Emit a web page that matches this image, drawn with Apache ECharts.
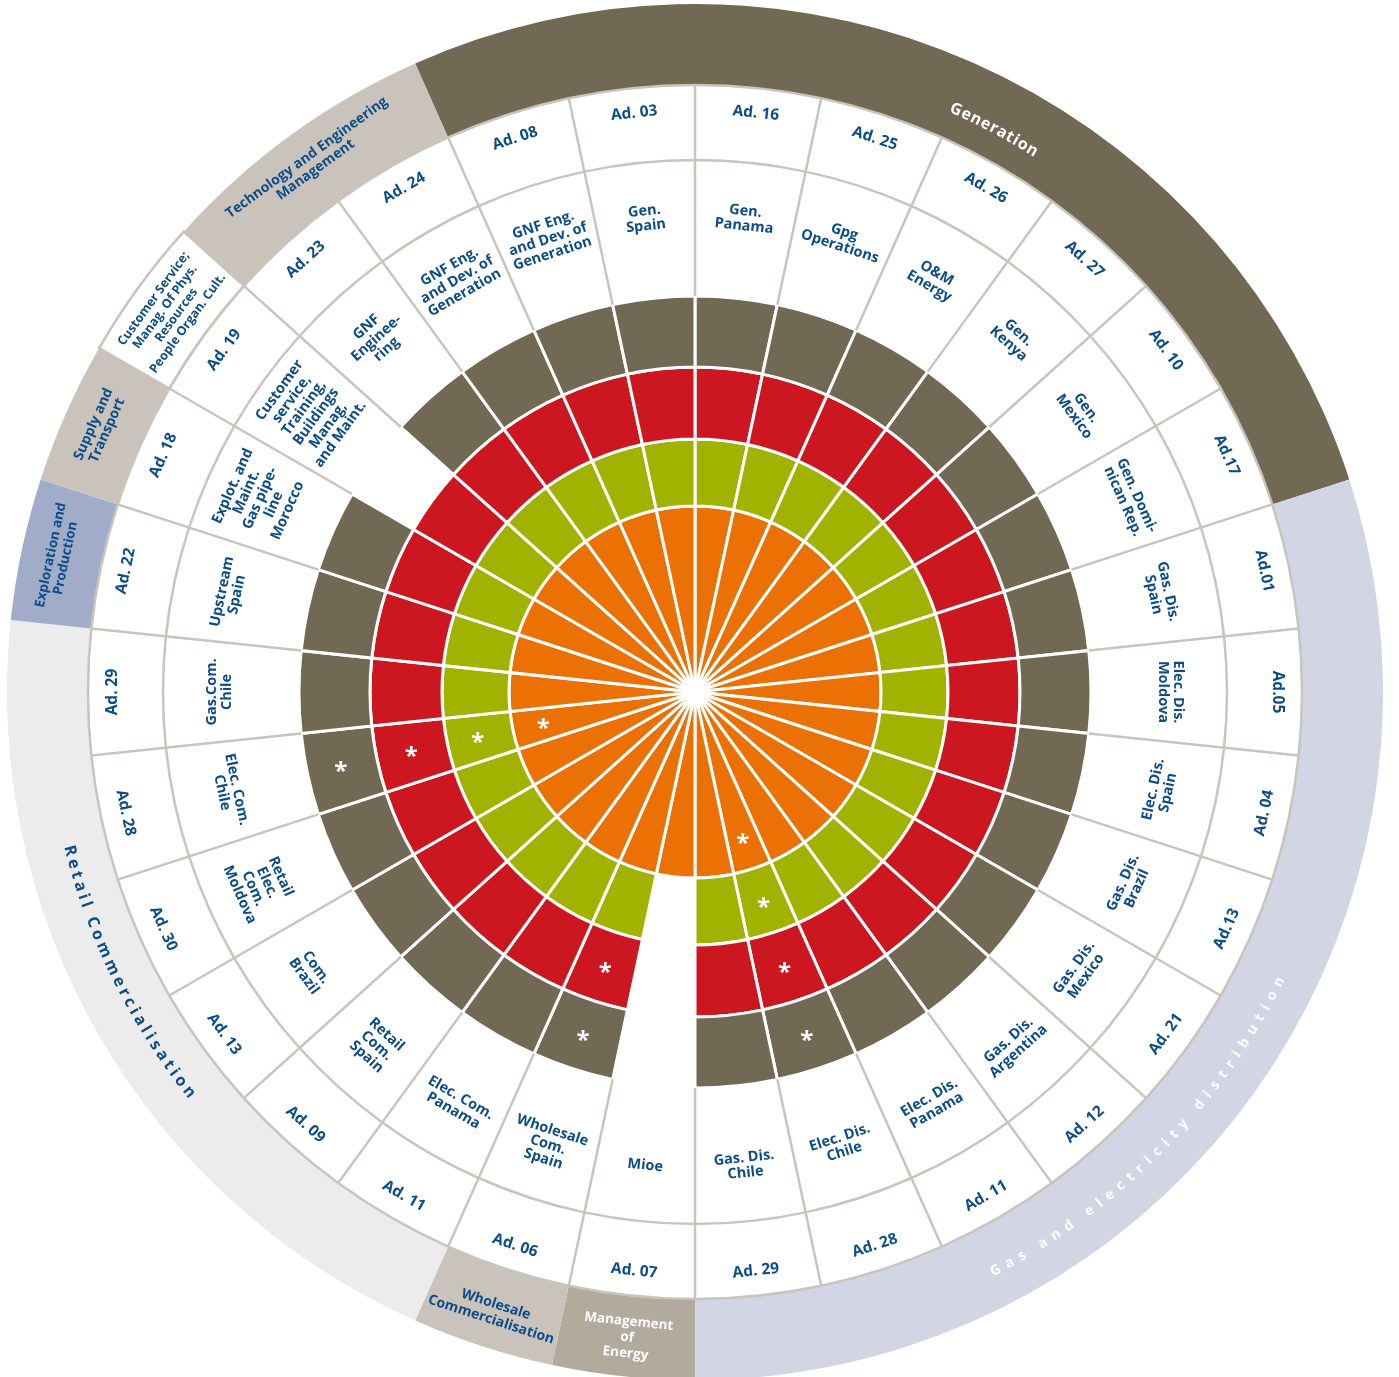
<!DOCTYPE html>
<html>
<head>
<meta charset="utf-8">
<title>Activities by business area</title>
<script src="https://cdn.jsdelivr.net/npm/echarts@6.0.0/dist/echarts.min.js"></script>
<style>
  html, body { margin: 0; padding: 0; background: #ffffff; }
  #chart { width: 1399px; height: 1377px; }
</style>
</head>
<body>
<div id="chart"></div>
<script>
// Activity codes, clockwise from 12 o'clock
const codes = ['Ad. 16', 'Ad. 25', 'Ad. 26', 'Ad. 27', 'Ad. 10', 'Ad.17', 'Ad.01', 'Ad.05', 'Ad. 04', 'Ad.13',
  'Ad. 21', 'Ad. 12', 'Ad. 11', 'Ad. 28', 'Ad. 29', 'Ad. 07', 'Ad. 06', 'Ad. 11', 'Ad. 09', 'Ad. 13',
  'Ad. 30', 'Ad. 28', 'Ad. 29', 'Ad. 22', 'Ad. 18', 'Ad. 19', 'Ad. 23', 'Ad. 24', 'Ad. 08', 'Ad. 03'];

// Activity names, same order
const activities = ['Gen.\nPanama', 'Gpg\nOperations', 'O&M\nEnergy', 'Gen.\nKenya', 'Gen.\nMexico',
  'Gen. Domi-\nnican Rep.', 'Gas. Dis.\nSpain', 'Elec. Dis.\nMoldova', 'Elec. Dis.\nSpain', 'Gas. Dis.\nBrazil',
  'Gas. Dis.\nMexico', 'Gas. Dis.\nArgentina', 'Elec. Dis.\nPanama', 'Elec. Dis.\nChile', 'Gas. Dis.\nChile',
  'Mioe', 'Wholesale\nCom.\nSpain', 'Elec. Com.\nPanama', 'Retail\nCom.\nSpain', 'Com.\nBrazil',
  'Retail\nElec.\nCom.\nMoldova', 'Elec. Com.\nChile', 'Gas.Com.\nChile', 'Upstream\nSpain',
  'Explot. and\nMaint.\nGas pipe-\nline\nMorocco',
  'Customer\nservice,\nTraining,\nBuildings\nManag,\nand Maint.',
  'GNF\nEnginee-\nring', 'GNF Eng.\nand Dev. of\nGeneration', 'GNF Eng.\nand Dev. of\nGeneration', 'Gen.\nSpain'];

// Filled cells per ring (1 = filled, 0 = empty), innermost ring first
const orangeRing = [1,1,1,1,1,1,1,1,1,1,1,1,1,1,1,1,1,1,1,1,1,1,1,1,1,1,1,1,1,1];
const greenRing  = [1,1,1,1,1,1,1,1,1,1,1,1,1,1,1,0,1,1,1,1,1,1,1,1,1,1,1,1,1,1];
const redRing    = [1,1,1,1,1,1,1,1,1,1,1,1,1,1,1,0,1,1,1,1,1,1,1,1,1,1,1,1,1,1];
const brownRing  = [1,1,1,1,1,1,1,1,1,1,1,1,1,1,1,0,1,1,1,1,1,1,1,1,1,0,1,1,1,1];

// Cells flagged with an asterisk
const orangeMarks = [0,0,0,0,0,0,0,0,0,0,0,0,0,1,0,0,0,0,0,0,0,1,0,0,0,0,0,0,0,0];
const greenMarks  = [0,0,0,0,0,0,0,0,0,0,0,0,0,1,0,0,0,0,0,0,0,1,0,0,0,0,0,0,0,0];
const redMarks    = [0,0,0,0,0,0,0,0,0,0,0,0,0,1,0,0,1,0,0,0,0,1,0,0,0,0,0,0,0,0];
const brownMarks  = [0,0,0,0,0,0,0,0,0,0,0,0,0,1,0,0,1,0,0,0,0,1,0,0,0,0,0,0,0,0];

// Business areas of the outer band and the activities (indices) each one covers
const areaNames = ['Generation', 'Gas and electricity distribution', 'Management\nof\nEnergy',
  'Wholesale\nCommercialisation', 'Retail Commercialisation', 'Exploration and\nProduction',
  'Supply and\nTransport', 'Customer Service;\nManag. Of Phys.\nResources\nPeople Organ. Cult.',
  'Technology and Engineering\nManagement'];
const areaMembers = [[28, 29, 0, 1, 2, 3, 4, 5], [6, 7, 8, 9, 10, 11, 12, 13, 14], [15], [16],
  [17, 18, 19, 20, 21, 22], [23], [24], [25], [26, 27]];

// ---- layout & style ----
const LAYOUT = {
  center: [695, 692],
  outer: 688,
  hole: 12,
  ringOuter: [186, 253, 325, 396],
  nameOuter: 532,
  codeOuter: 607,
  nameR: 476,
  codeR: 582,
  markR: [155, 222, 290, 362]
};
const RING_COLORS = ['#ec7105', '#a1b300', '#cd1720', '#716954'];
const GRID = '#c9c4bc';
const BLUE = '#0c4d88';
const FONT = '"Open Sans", "Noto Sans", sans-serif';
const AREA_STYLE = [
  { fill: '#716954', color: '#ffffff', r: 638, shift: 4, curved: true, size: 16, spacing: 0.8 },
  { fill: '#d1d5e4', color: '#ffffff', r: 652, shift: 8.5, curved: true, size: 14, spacing: 6.6 },
  { fill: '#b2aa9c', color: '#ffffff', r: 649, size: 13.5, lh: 16 },
  { fill: '#c9c3bc', color: BLUE, r: 652, size: 14, lh: 16 },
  { fill: '#ececec', color: BLUE, r: 645, shift: 3.7, curved: true, size: 16, spacing: 3.5 },
  { fill: '#a0acc8', color: BLUE, r: 651, size: 13.5, lh: 15 },
  { fill: '#c9c3bc', color: BLUE, r: 651, size: 14, lh: 15 },
  { fill: '#ffffff', color: BLUE, r: 648, size: 12.5, lh: 14, stroke: GRID },
  { fill: '#c9c3bc', color: BLUE, r: 653, size: 14, lh: 15 }
];

const rings = [orangeRing, greenRing, redRing, brownRing];
const marks = [orangeMarks, greenMarks, redMarks, brownMarks];
const cellData = [];
rings.forEach((ring, k) => ring.forEach((v, i) => { if (v) cellData.push([k, i, marks[k][i]]); }));

// ---- helpers ----
const measureCtx = document.createElement('canvas').getContext('2d');
function textWidth(str, font) { measureCtx.font = font; return measureCtx.measureText(str).width; }
function clockDeg(a) { return (((90 - a * 180 / Math.PI) % 360) + 360) % 360; }
function readsClockwise(a) { const t = clockDeg(a); return t <= 90.5 || t >= 269.5; }
function tangentRotation(a) { return readsClockwise(a) ? a - Math.PI / 2 : a + Math.PI / 2; }
function pointAt(cs, r, a) { return [cs.cx + r * Math.cos(a), cs.cy - r * Math.sin(a)]; }
function segmentAngles(api, idx) {
  return { a: api.coord([0, idx])[3], bw: api.size([0, 1], [0, idx])[1] };
}
function textEl(x, y, rotation, text, font, fill, lineHeight) {
  return {
    type: 'text', x, y, rotation,
    style: {
      text, font, fill, lineHeight, textLineHeight: lineHeight,
      align: 'center', verticalAlign: 'middle', textAlign: 'center', textVerticalAlign: 'middle'
    }
  };
}
function curvedText(cs, aCenter, R, text, font, spacing, color) {
  const cw = readsClockwise(aCenter);
  const chars = Array.from(text);
  const widths = chars.map(ch => textWidth(ch, font));
  const total = widths.reduce((s, w) => s + w, 0) + spacing * (chars.length - 1);
  let x = -total / 2;
  return chars.map((ch, j) => {
    const mid = x + widths[j] / 2;
    x += widths[j] + spacing;
    const a = cw ? aCenter - mid / R : aCenter + mid / R;
    const p = pointAt(cs, R, a);
    return textEl(p[0], p[1], cw ? a - Math.PI / 2 : a + Math.PI / 2, ch, font, color);
  });
}

// ---- renderers ----
function renderArea(params, api) {
  const k = api.value(0);
  const members = areaMembers[k];
  const cs = params.coordSys;
  const { a, bw } = segmentAngles(api, members[0]);
  const start = -a - bw / 2;
  const span = bw * members.length;
  const st = AREA_STYLE[k];
  const children = [{
    type: 'sector',
    shape: { cx: cs.cx, cy: cs.cy, r0: LAYOUT.codeOuter, r: LAYOUT.outer, startAngle: start, endAngle: start + span, clockwise: true },
    style: { fill: st.fill, stroke: st.stroke || null, lineWidth: 2.5 }
  }];
  const mid = a + bw / 2 - span / 2 - (st.shift || 0) * Math.PI / 180;
  const font = `bold ${st.size}px ${FONT}`;
  if (st.curved) {
    children.push(...curvedText(cs, mid, st.r, areaNames[k], font, st.spacing, st.color));
  } else {
    const p = pointAt(cs, st.r, mid);
    children.push(textEl(p[0], p[1], tangentRotation(mid), areaNames[k], font, st.color, st.lh));
  }
  return { type: 'group', children };
}

function renderCell(params, api) {
  const k = api.value(0), i = api.value(1), mark = api.value(2);
  const cs = params.coordSys;
  const { a, bw } = segmentAngles(api, i);
  const children = [{
    type: 'sector',
    shape: {
      cx: cs.cx, cy: cs.cy,
      r0: k === 0 ? LAYOUT.hole : LAYOUT.ringOuter[k - 1], r: LAYOUT.ringOuter[k],
      startAngle: -a - bw / 2, endAngle: -a + bw / 2, clockwise: true
    },
    style: { fill: RING_COLORS[k], stroke: '#ffffff', lineWidth: 3 }
  }];
  if (mark) {
    const p = api.coord([LAYOUT.markR[k], i]);
    children.push(textEl(p[0], p[1] + 5, 0, '*', `bold 24px ${FONT}`, '#ffffff'));
  }
  return { type: 'group', children };
}

function renderLabel(params, api) {
  const i = api.value(1);
  const cs = params.coordSys;
  const { a, bw } = segmentAngles(api, i);
  const edge = a + bw / 2;
  const p1 = pointAt(cs, LAYOUT.ringOuter[3], edge);
  const p2 = pointAt(cs, LAYOUT.codeOuter, edge);
  const lineStyle = { stroke: GRID, lineWidth: 2.5, fill: null };
  const rot = tangentRotation(a);
  const code = api.coord([LAYOUT.codeR, i]);
  const name = api.coord([LAYOUT.nameR, i]);
  const arc = r => ({
    type: 'arc',
    shape: { cx: cs.cx, cy: cs.cy, r, startAngle: -a - bw / 2, endAngle: -a + bw / 2, clockwise: true },
    style: lineStyle
  });
  return {
    type: 'group',
    children: [
      { type: 'line', shape: { x1: p1[0], y1: p1[1], x2: p2[0], y2: p2[1] }, style: lineStyle },
      arc(LAYOUT.nameOuter),
      arc(LAYOUT.codeOuter),
      textEl(code[0], code[1], rot, codes[i], `bold 15.5px ${FONT}`, BLUE),
      textEl(name[0], name[1], rot, activities[i], `bold 14.5px ${FONT}`, BLUE, 15)
    ]
  };
}

const chart = echarts.init(document.getElementById('chart'), null, { renderer: 'canvas' });
chart.setOption({
  animation: false,
  backgroundColor: '#ffffff',
  polar: { center: LAYOUT.center, radius: LAYOUT.outer },
  angleAxis: {
    type: 'category', data: codes.map((_, i) => String(i)),
    startAngle: 90, clockwise: true, boundaryGap: true, show: false
  },
  radiusAxis: { type: 'value', min: 0, max: LAYOUT.outer, show: false },
  series: [
    { type: 'custom', coordinateSystem: 'polar', silent: true, z: 1,
      renderItem: renderArea, data: areaNames.map((_, k) => [k, areaMembers[k][0]]) },
    { type: 'custom', coordinateSystem: 'polar', silent: true, z: 2,
      renderItem: renderCell, data: cellData },
    { type: 'custom', coordinateSystem: 'polar', silent: true, z: 3,
      renderItem: renderLabel, data: codes.map((_, i) => [0, i]) }
  ]
});
</script>
</body>
</html>
